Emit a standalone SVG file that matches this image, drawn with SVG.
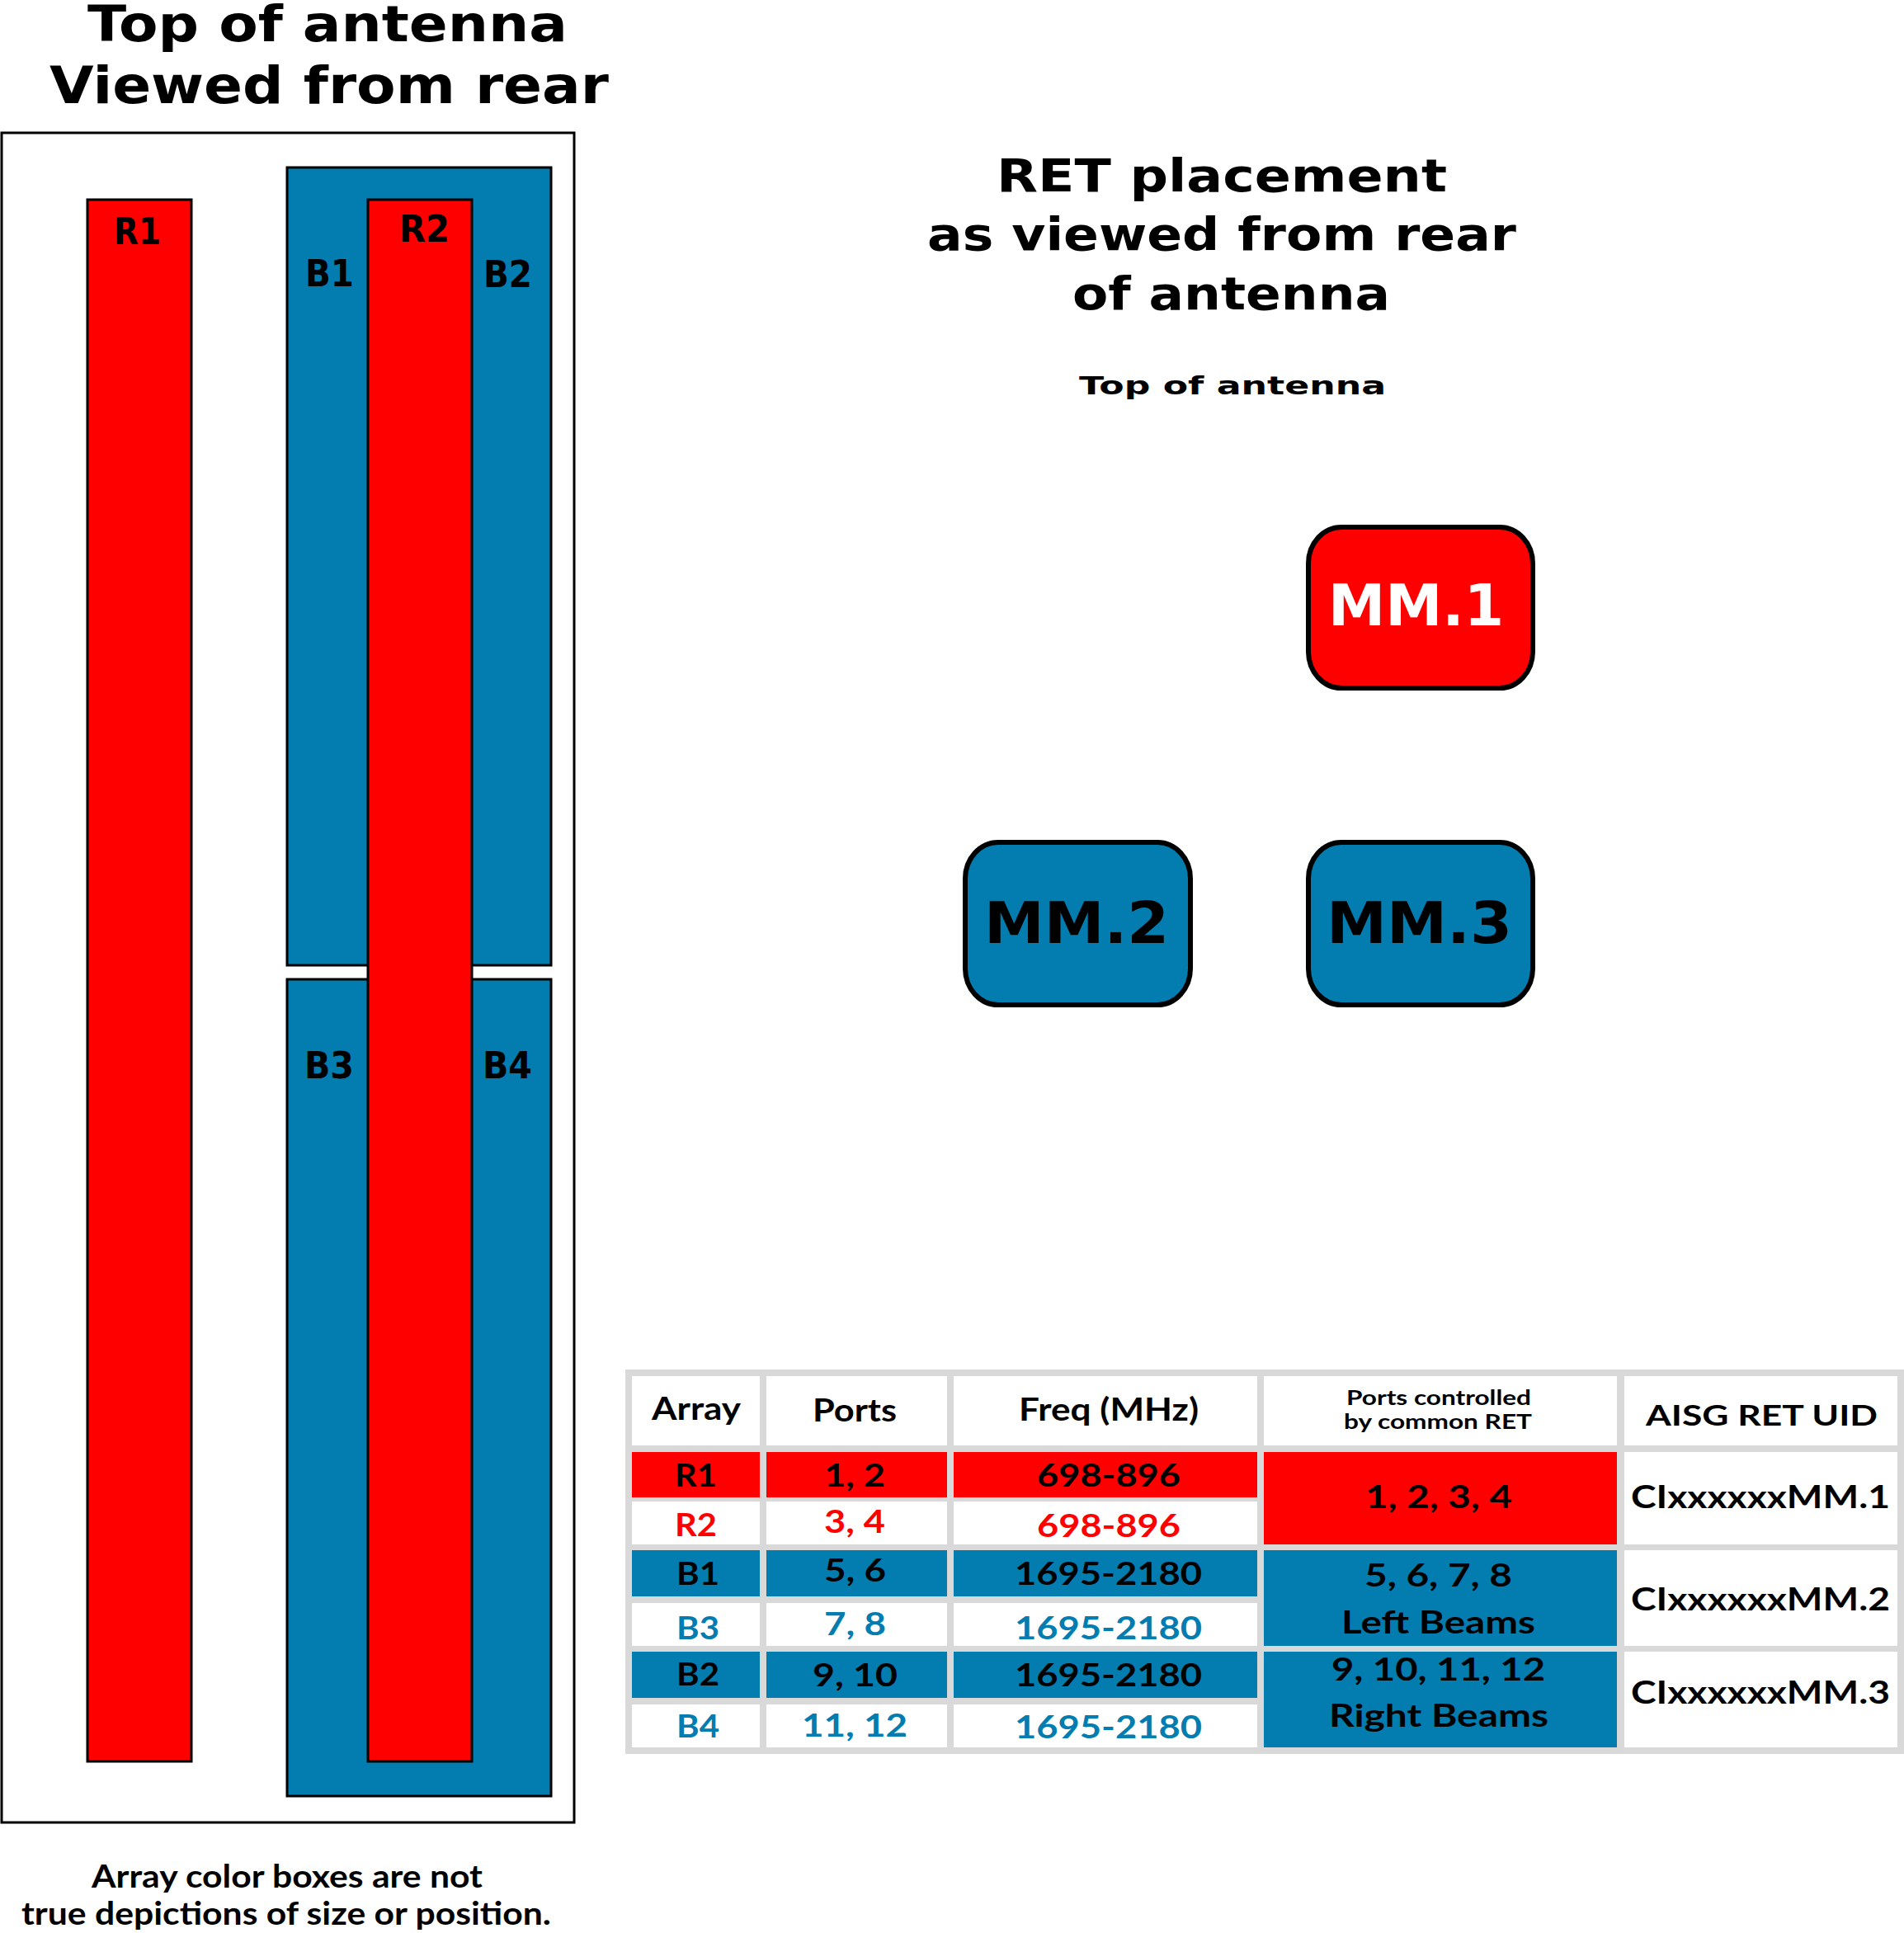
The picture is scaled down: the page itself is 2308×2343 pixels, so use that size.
<svg xmlns="http://www.w3.org/2000/svg" width="2308" height="2343" viewBox="0 0 2308 2343">
<style>
.hv{font-family:"DejaVu Sans","Liberation Sans",sans-serif;font-weight:bold;fill:#000}
.lb{font-family:"DejaVu Sans Condensed","DejaVu Sans",sans-serif;font-weight:bold;font-size:45px;fill:#000}
.tb{font-family:Lato,"Open Sans",sans-serif;font-weight:bold;font-size:38px;fill:#000}
.sm{font-size:24px}
.uid{font-size:35px}
.nt{font-size:39px}
.red{fill:#FF0000}
.blue{fill:#037DB0}
.wh{fill:#FFFFFF}
.bar{stroke:#000;stroke-width:3}
.mm{stroke:#000;stroke-width:6}
</style>
<rect width="2308" height="2343" fill="#FFFFFF"/>

<g id="left-title">
<text class="hv" x="106" y="50" font-size="60" textLength="582" lengthAdjust="spacingAndGlyphs">Top of antenna</text>
<text class="hv" x="60" y="125" font-size="62" textLength="678" lengthAdjust="spacingAndGlyphs">Viewed from rear</text>
</g>

<g id="antenna-frame">
<rect x="2" y="161" width="694" height="2048" fill="#FFFFFF" stroke="#000" stroke-width="3"/>
</g>

<g id="B1-B2">
<rect class="blue bar" x="348" y="203" width="320" height="967"/>
<text class="lb" x="370" y="347" textLength="59" lengthAdjust="spacingAndGlyphs">B1</text>
<text class="lb" x="586" y="348" textLength="59" lengthAdjust="spacingAndGlyphs">B2</text>
</g>
<g id="B3-B4">
<rect class="blue bar" x="348" y="1187" width="320" height="990"/>
<text class="lb" x="369" y="1307" textLength="60" lengthAdjust="spacingAndGlyphs">B3</text>
<text class="lb" x="585" y="1307" textLength="60" lengthAdjust="spacingAndGlyphs">B4</text>
</g>
<g id="R1">
<rect class="red bar" x="106" y="242" width="126" height="1893"/>
<text class="lb" x="138" y="296" textLength="57" lengthAdjust="spacingAndGlyphs">R1</text>
</g>
<g id="R2">
<rect class="red bar" x="446" y="242" width="126" height="1893"/>
<text class="lb" x="484" y="293" textLength="61" lengthAdjust="spacingAndGlyphs">R2</text>
</g>

<g id="note">
<text class="tb nt" x="111" y="2288" textLength="474" lengthAdjust="spacingAndGlyphs">Array color boxes are not</text>
<text class="tb nt" x="26" y="2333" textLength="642" lengthAdjust="spacingAndGlyphs">true depictions of size or position.</text>
</g>

<g id="right-title">
<text class="hv" x="1208" y="232" font-size="56" textLength="546" lengthAdjust="spacingAndGlyphs">RET placement</text>
<text class="hv" x="1124" y="303" font-size="56" textLength="714" lengthAdjust="spacingAndGlyphs">as viewed from rear</text>
<text class="hv" x="1300" y="375" font-size="56" textLength="385" lengthAdjust="spacingAndGlyphs">of antenna</text>
<text class="hv" x="1308" y="478" font-size="31" textLength="372" lengthAdjust="spacingAndGlyphs">Top of antenna</text>
</g>

<g id="MM1">
<rect class="red mm" x="1586" y="639" width="272" height="195" rx="40" ry="44"/>
<text class="hv wh" x="1610" y="758" font-size="69" textLength="213" lengthAdjust="spacingAndGlyphs">MM.1</text>
</g>
<g id="MM2">
<rect class="blue mm" x="1170" y="1021" width="273" height="197" rx="40" ry="44"/>
<text class="hv" x="1193" y="1143" font-size="69" textLength="224" lengthAdjust="spacingAndGlyphs">MM.2</text>
</g>
<g id="MM3">
<rect class="blue mm" x="1586" y="1021" width="272" height="197" rx="40" ry="44"/>
<text class="hv" x="1608" y="1143" font-size="69" textLength="225" lengthAdjust="spacingAndGlyphs">MM.3</text>
</g>

<g id="connectors"/>

<g id="table">
<rect x="758" y="1660" width="1550" height="466" fill="#D9D9D9"/>
<rect class="wh" x="766" y="1668" width="155" height="84"/>
<rect class="wh" x="929" y="1668" width="219" height="84"/>
<rect class="wh" x="1156" y="1668" width="368" height="84"/>
<rect class="wh" x="1532" y="1668" width="428" height="84"/>
<rect class="wh" x="1969" y="1668" width="331" height="84"/>
<text class="tb" x="790" y="1721" textLength="108" lengthAdjust="spacingAndGlyphs">Array</text>
<text class="tb" x="985" y="1723" textLength="102" lengthAdjust="spacingAndGlyphs">Ports</text>
<text class="tb" x="1235" y="1722" textLength="218" lengthAdjust="spacingAndGlyphs">Freq (MHz)</text>
<text class="tb sm" x="1632" y="1703" textLength="224" lengthAdjust="spacingAndGlyphs">Ports controlled</text>
<text class="tb sm" x="1629" y="1732" textLength="228" lengthAdjust="spacingAndGlyphs">by common RET</text>
<text class="tb uid" x="1995" y="1728" textLength="281" lengthAdjust="spacingAndGlyphs">AISG RET UID</text>
<rect class="red" x="766" y="1760" width="155" height="55"/>
<rect class="red" x="929" y="1760" width="219" height="55"/>
<rect class="red" x="1156" y="1760" width="368" height="55"/>
<text class="tb" x="818" y="1802" textLength="51" lengthAdjust="spacingAndGlyphs">R1</text>
<text class="tb" x="999" y="1802" textLength="74" lengthAdjust="spacingAndGlyphs">1, 2</text>
<text class="tb" x="1257" y="1802" textLength="174" lengthAdjust="spacingAndGlyphs">698-896</text>
<rect class="wh" x="766" y="1820" width="155" height="52"/>
<rect class="wh" x="929" y="1820" width="219" height="52"/>
<rect class="wh" x="1156" y="1820" width="368" height="52"/>
<text class="tb red" x="818" y="1862" textLength="51" lengthAdjust="spacingAndGlyphs">R2</text>
<text class="tb red" x="999" y="1858" textLength="74" lengthAdjust="spacingAndGlyphs">3, 4</text>
<text class="tb red" x="1257" y="1863" textLength="174" lengthAdjust="spacingAndGlyphs">698-896</text>
<rect class="red" x="1532" y="1760" width="428" height="112"/>
<rect class="wh" x="1969" y="1760" width="331" height="112"/>
<text class="tb" x="1655" y="1828" textLength="178" lengthAdjust="spacingAndGlyphs">1, 2, 3, 4</text>
<text class="tb" x="1977" y="1828" textLength="314" lengthAdjust="spacingAndGlyphs">CIxxxxxxMM.1</text>
<rect class="blue" x="766" y="1879" width="155" height="56"/>
<rect class="blue" x="929" y="1879" width="219" height="56"/>
<rect class="blue" x="1156" y="1879" width="368" height="56"/>
<text class="tb" x="820" y="1921" textLength="52" lengthAdjust="spacingAndGlyphs">B1</text>
<text class="tb" x="999" y="1917" textLength="75" lengthAdjust="spacingAndGlyphs">5, 6</text>
<text class="tb" x="1230" y="1921" textLength="227" lengthAdjust="spacingAndGlyphs">1695-2180</text>
<rect class="wh" x="766" y="1943" width="155" height="52"/>
<rect class="wh" x="929" y="1943" width="219" height="52"/>
<rect class="wh" x="1156" y="1943" width="368" height="52"/>
<text class="tb blue" x="820" y="1987" textLength="52" lengthAdjust="spacingAndGlyphs">B3</text>
<text class="tb blue" x="999" y="1982" textLength="75" lengthAdjust="spacingAndGlyphs">7, 8</text>
<text class="tb blue" x="1230" y="1987" textLength="227" lengthAdjust="spacingAndGlyphs">1695-2180</text>
<rect class="blue" x="1532" y="1879" width="428" height="116"/>
<rect class="wh" x="1969" y="1879" width="331" height="116"/>
<text class="tb" x="1654" y="1923" textLength="179" lengthAdjust="spacingAndGlyphs">5, 6, 7, 8</text>
<text class="tb" x="1626" y="1980" textLength="235" lengthAdjust="spacingAndGlyphs">Left Beams</text>
<text class="tb" x="1977" y="1952" textLength="314" lengthAdjust="spacingAndGlyphs">CIxxxxxxMM.2</text>
<rect class="blue" x="766" y="2002" width="155" height="56"/>
<rect class="blue" x="929" y="2002" width="219" height="56"/>
<rect class="blue" x="1156" y="2002" width="368" height="56"/>
<text class="tb" x="820" y="2043" textLength="52" lengthAdjust="spacingAndGlyphs">B2</text>
<text class="tb" x="985" y="2044" textLength="103" lengthAdjust="spacingAndGlyphs">9, 10</text>
<text class="tb" x="1230" y="2044" textLength="227" lengthAdjust="spacingAndGlyphs">1695-2180</text>
<rect class="wh" x="766" y="2066" width="155" height="52"/>
<rect class="wh" x="929" y="2066" width="219" height="52"/>
<rect class="wh" x="1156" y="2066" width="368" height="52"/>
<text class="tb blue" x="820" y="2106" textLength="52" lengthAdjust="spacingAndGlyphs">B4</text>
<text class="tb blue" x="972" y="2105" textLength="128" lengthAdjust="spacingAndGlyphs">11, 12</text>
<text class="tb blue" x="1230" y="2107" textLength="227" lengthAdjust="spacingAndGlyphs">1695-2180</text>
<rect class="blue" x="1532" y="2002" width="428" height="116"/>
<rect class="wh" x="1969" y="2002" width="331" height="116"/>
<text class="tb" x="1614" y="2037" textLength="259" lengthAdjust="spacingAndGlyphs">9, 10, 11, 12</text>
<text class="tb" x="1611" y="2093" textLength="266" lengthAdjust="spacingAndGlyphs">Right Beams</text>
<text class="tb" x="1977" y="2065" textLength="314" lengthAdjust="spacingAndGlyphs">CIxxxxxxMM.3</text>
</g>
</svg>
